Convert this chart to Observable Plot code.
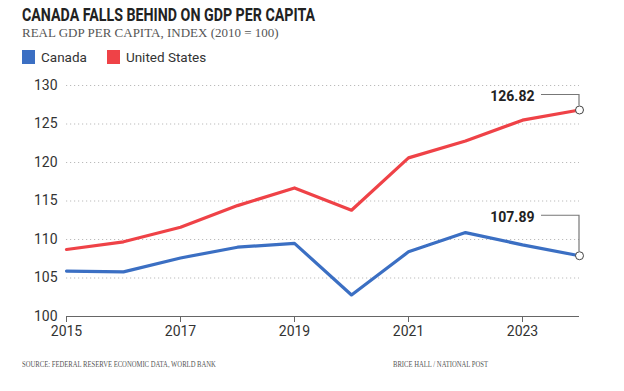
<!DOCTYPE html>
<html><head><meta charset="utf-8">
<script src="https://cdn.jsdelivr.net/npm/d3@7"></script>
<script src="https://cdn.jsdelivr.net/npm/@observablehq/plot@0.6"></script>
<style>
body{margin:0;background:#fff;font-family:Roboto,"Liberation Sans",sans-serif;}
#wrap{position:relative;width:624px;height:391px;}
.title{position:absolute;left:22px;top:4px;font-family:Roboto,sans-serif;font-weight:bold;font-size:18px;color:#222;transform:scaleX(0.79);transform-origin:0 0;white-space:nowrap;}
.sub{position:absolute;left:22px;top:25px;font-family:"Liberation Serif","DejaVu Serif",serif;font-size:13px;color:#555;white-space:nowrap;}
.legend{position:absolute;left:22px;top:49px;font-size:13.5px;color:#333;display:flex;gap:20px;}
.legend span{display:flex;align-items:center;}
.legend i{display:inline-block;width:13px;height:14px;margin-right:6px;}
.cap{position:absolute;top:360px;font-family:"Liberation Serif","DejaVu Serif",serif;font-size:8px;color:#555;transform:scaleX(0.83);transform-origin:0 0;white-space:nowrap;}
#chart{position:absolute;left:0;top:70px;}
</style></head><body>
<div id="wrap">
<div class="title">CANADA FALLS BEHIND ON GDP PER CAPITA</div>
<div class="sub">REAL GDP PER CAPITA, INDEX (2010 = 100)</div>
<div class="legend"><span><i style="background:#3b6fc3"></i>Canada</span><span><i style="background:#ef4247"></i>United States</span></div>
<div id="chart"></div>
<div class="cap" style="left:22px">SOURCE: FEDERAL RESERVE ECONOMIC DATA, WORLD BANK</div>
<div class="cap" style="left:393px">BRICE HALL / NATIONAL POST</div>
</div>
<script>
const years = [2015,2016,2017,2018,2019,2020,2021,2022,2023,2024];
const canada = [105.9,105.8,107.6,109.0,109.5,102.8,108.4,110.9,109.3,107.89];
const us = [108.7,109.7,111.6,114.4,116.7,113.8,120.6,122.8,125.5,126.82];
const yTicks = [100,105,110,115,120,125,130];
const xTicks = [2015,2017,2019,2021,2023];
const seriesNames = ["Canada","United States"];
const colors = ["#3b6fc3","#ef4247"];
const endLabels = ["107.89","126.82"];
const labelRise = [40,15];

const data = [];
years.forEach((y,i)=>{ data.push({year:y,value:canada[i],s:"Canada"}); data.push({year:y,value:us[i],s:"United States"}); });
const ends = [
  {year:2024,value:canada[canada.length-1],label:endLabels[0],rise:labelRise[0]},
  {year:2024,value:us[us.length-1],label:endLabels[1],rise:labelRise[1]}
];

function connectors(index, scales){
  const g = d3.create("svg:g");
  for (const d of ends){
    const x = scales.x(d.year), y = scales.y(d.value);
    g.append("path").attr("d",`M${x-38},${y-d.rise}H${x}V${y-4}`)
     .attr("fill","none").attr("stroke","#777").attr("stroke-width",1.2);
  }
  return g.node();
}

const chart = Plot.plot({
  width:624, height:280,
  marginLeft:66, marginRight:45, marginTop:15, marginBottom:34,
  x:{domain:[2015,2024], ticks:xTicks, tickFormat:d=>String(d)},
  y:{domain:[100,130], ticks:yTicks},
  color:{domain:seriesNames, range:colors},
  style:{fontFamily:"Roboto, sans-serif", fontSize:"14px", color:"#333"},
  marks:[
    Plot.ruleY(yTicks.filter(t=>t>100),{stroke:"#bbb",strokeDasharray:"1.2,2.8",strokeWidth:1}),
    Plot.axisY({ticks:yTicks, tickSize:0, tickPadding:9, fontSize:14, fill:"#333", label:null}),
    Plot.ruleY([100],{stroke:"#666",strokeWidth:1.2}),
    Plot.axisX({ticks:xTicks, tickSize:6, tickPadding:4, stroke:"#666", fontSize:14, fill:"#333", label:null, tickFormat:d=>String(d)}),
    Plot.line(data,{x:"year",y:"value",z:"s",stroke:"s",strokeWidth:3.2}),
    connectors,
    Plot.dot(ends,{x:"year",y:"value",r:4,fill:"white",stroke:"#444",strokeWidth:1}),
    Plot.text([ends[0]],{x:"year",y:"value",text:"label",dx:-45,dy:-labelRise[0]+2,textAnchor:"end",fontWeight:"bold",fontSize:14,fill:"#222"}),
    Plot.text([ends[1]],{x:"year",y:"value",text:"label",dx:-45,dy:-labelRise[1]+2,textAnchor:"end",fontWeight:"bold",fontSize:14,fill:"#222"})
  ]
});
document.getElementById("chart").appendChild(chart);
</script>
</body></html>
